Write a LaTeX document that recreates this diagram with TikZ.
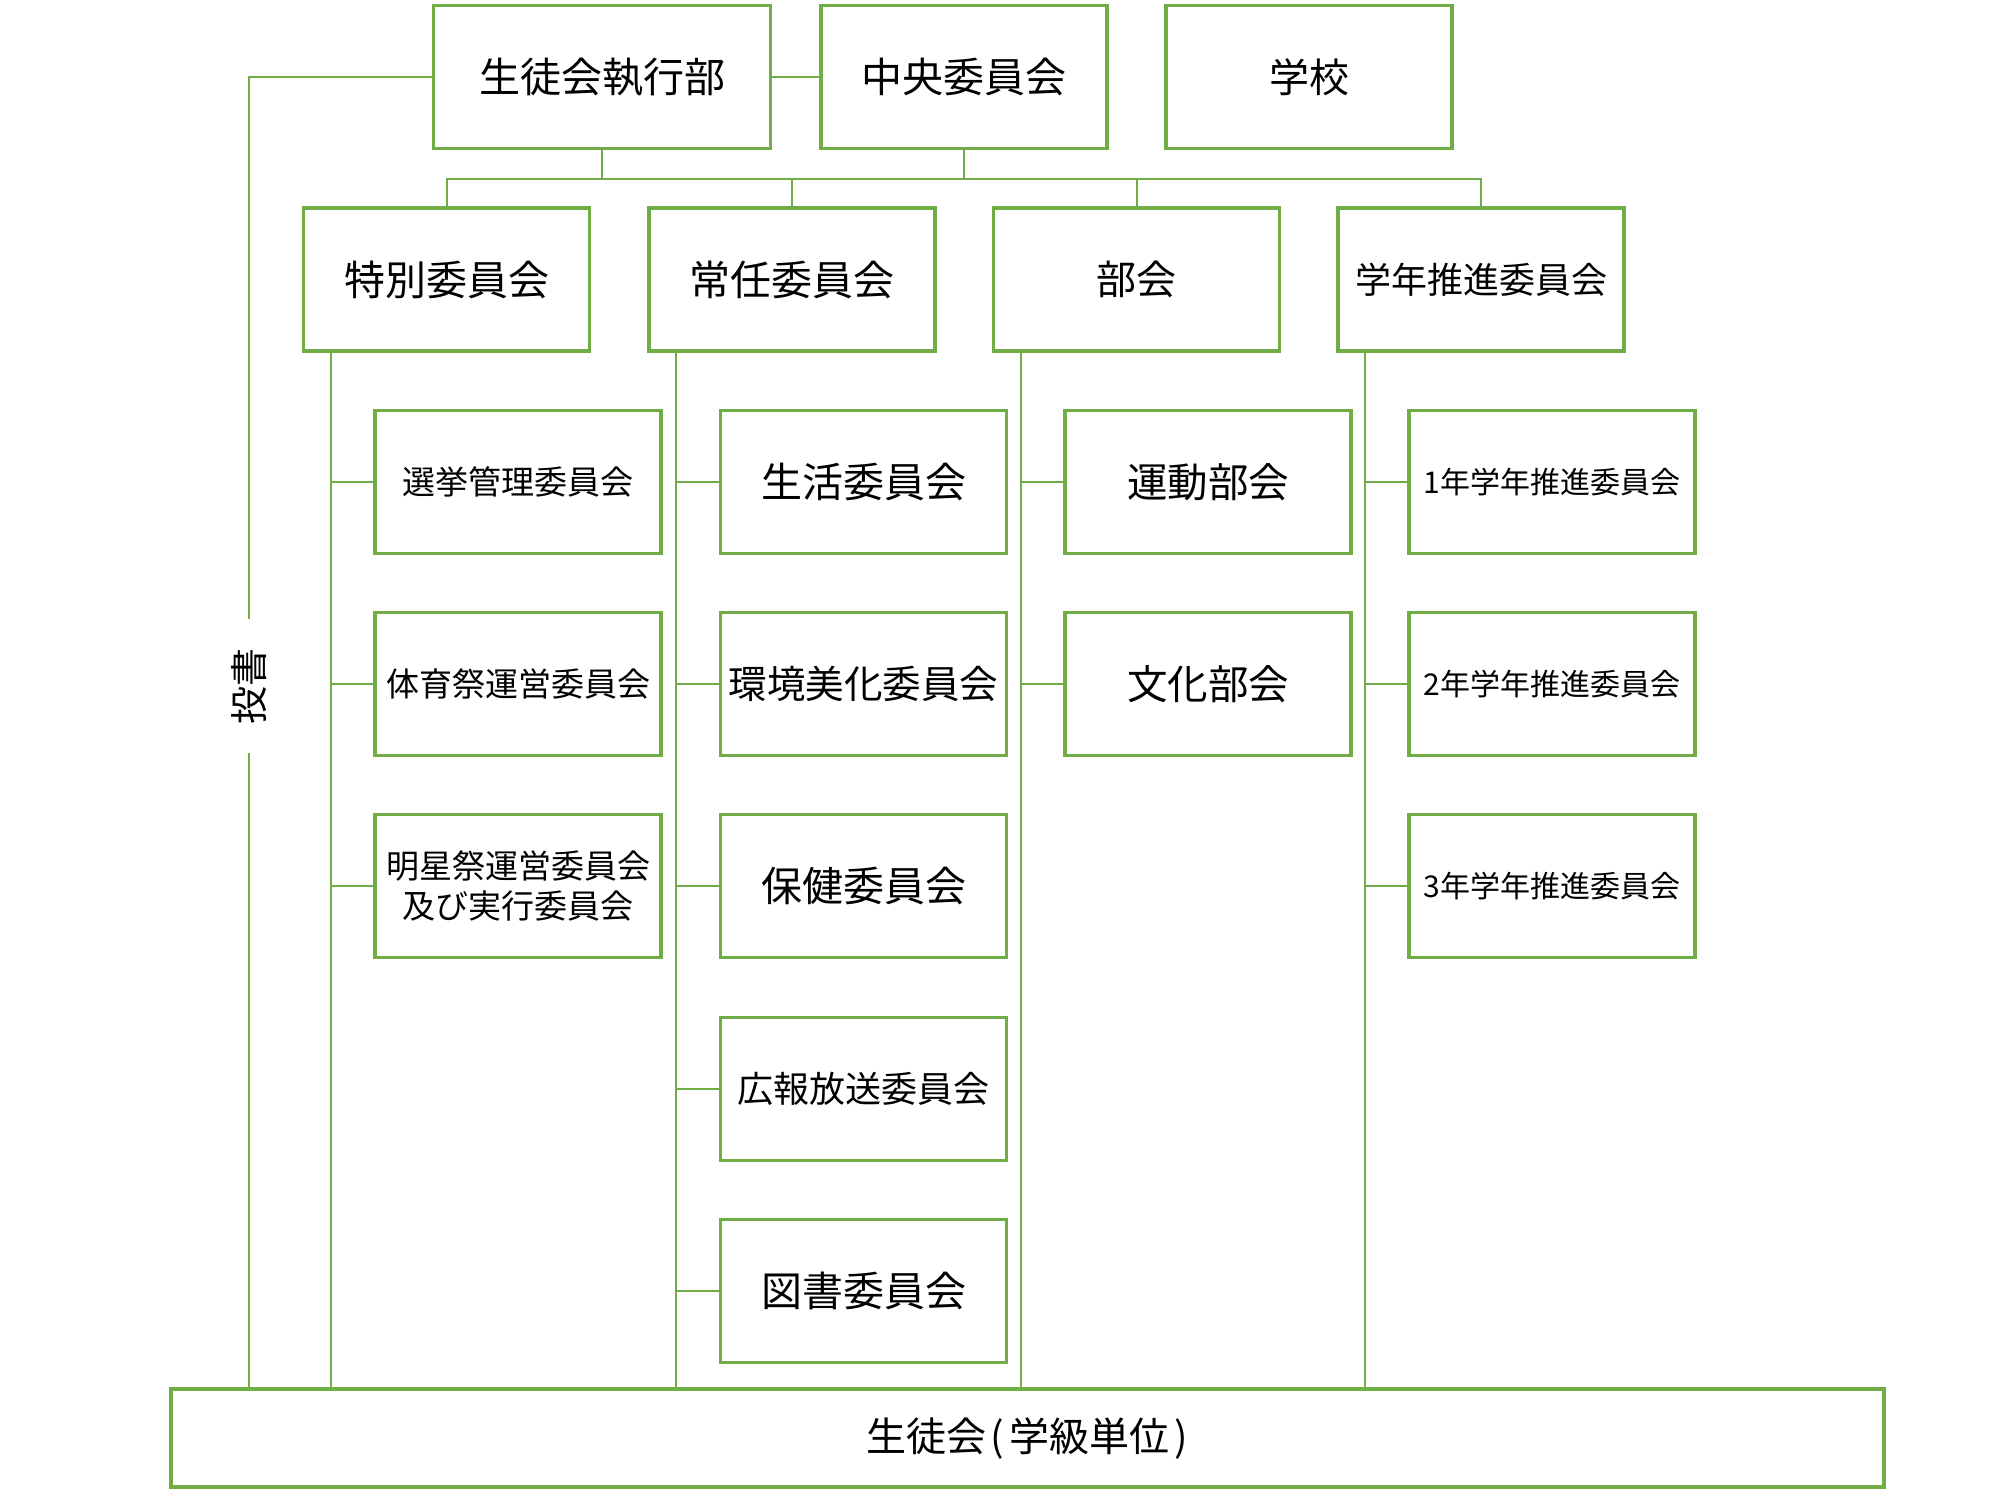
\documentclass[tikz,border=0pt]{standalone}
\usepackage{fontspec}
\newfontfamily\jp{Noto Sans CJK JP}
\definecolor{orggreen}{HTML}{70AD47}
\begin{document}
\begin{tikzpicture}[x=1pt,y=-1pt,
  fs/.style={font={\jp\fontsize{#1}{40}\selectfont}},
  box/.style={draw=orggreen, line width=3.5pt, fill=white,
    minimum width=286pt, minimum height=143pt, inner sep=0pt, align=center},
  link/.style={draw=orggreen, line width=2pt}]
\fill[white] (0,0) rectangle (2000,1500);
\useasboundingbox (0,0) rectangle (2000,1500);

% top row
\node[box, fs=41, minimum width=337pt] (exec) at (602,77) {生徒会執行部};
\node[box, fs=41] (central) at (964,77) {中央委員会};
\node[box, fs=40] (school) at (1309,77) {学校};

% second row
\node[box, fs=41] (toku) at (446.5,279.5) {特別委員会};
\node[box, fs=41] (jonin) at (792,279.5) {常任委員会};
\node[box, fs=40] (bukai) at (1136.5,279.5) {部会};
\node[box, fs=36] (gakunen) at (1481,279.5) {学年推進委員会};

% special committees
\node[box, fs=33] (senkyo) at (518,482) {選挙管理委員会};
\node[box, fs=33] (taiiku) at (518,684) {体育祭運営委員会};
\node[box, fs=33] (meisei) at (518,886) {明星祭運営委員会\\及び実行委員会};

% standing committees
\node[box, fs=41] (seikatsu) at (863.5,482) {生活委員会};
\node[box, fs=38.5] (kankyo) at (863.5,684) {環境美化委員会};
\node[box, fs=41] (hoken) at (863.5,886) {保健委員会};
\node[box, fs=36] (koho) at (863.5,1089) {広報放送委員会};
\node[box, fs=41] (tosho) at (863.5,1291) {図書委員会};

% clubs
\node[box, fs=40.5] (undo) at (1208,482) {運動部会};
\node[box, fs=40.5] (bunka) at (1208,684) {文化部会};

% grade committees
\node[box, fs=30] (g1) at (1552,482) {1年学年推進委員会};
\node[box, fs=30] (g2) at (1552,684) {2年学年推進委員会};
\node[box, fs=30] (g3) at (1552,886) {3年学年推進委員会};

% student council
\node[box, fs=40, minimum width=1713pt, minimum height=98pt] (seitokai) at (1027.5,1438)
  {生徒会\hspace{4pt}(\hspace{5pt}学級単位\hspace{5pt})};

% links between the top boxes and the distribution bus
\coordinate (bus) at (0,179);
\draw[link] (exec.east) -- (central.west);
\draw[link] (exec.south) -- (exec.south |- bus);
\draw[link] (central.south) -- (central.south |- bus);
\draw[link] (toku.north) -- (toku.north |- bus) -- (gakunen.north |- bus) -- (gakunen.north);
\draw[link] (jonin.north) -- (jonin.north |- bus);
\draw[link] (bukai.north) -- (bukai.north |- bus);

% trunks down to the student council
\coordinate (t1) at ([xshift=29pt]toku.south west);
\coordinate (t2) at ([xshift=29pt]jonin.south west);
\coordinate (t3) at ([xshift=29pt]bukai.south west);
\coordinate (t4) at ([xshift=29pt]gakunen.south west);
\foreach \t in {t1,t2,t3,t4}
  \draw[link] (\t) -- (\t |- seitokai.north);

% branches to the sub-committees
\foreach \n in {senkyo,taiiku,meisei}
  \draw[link] (\n.west) -- (\n.west -| t1);
\foreach \n in {seikatsu,kankyo,hoken,koho,tosho}
  \draw[link] (\n.west) -- (\n.west -| t2);
\foreach \n in {undo,bunka}
  \draw[link] (\n.west) -- (\n.west -| t3);
\foreach \n in {g1,g2,g3}
  \draw[link] (\n.west) -- (\n.west -| t4);

% suggestion line on the left
\node[rotate=90, fs=38, inner xsep=29pt, inner ysep=0pt] (tousho) at (249,686) {投書};
\draw[link] (exec.west) -| (tousho.east);
\draw[link] (tousho.west) -- (tousho.west |- seitokai.north);
\end{tikzpicture}
\end{document}
